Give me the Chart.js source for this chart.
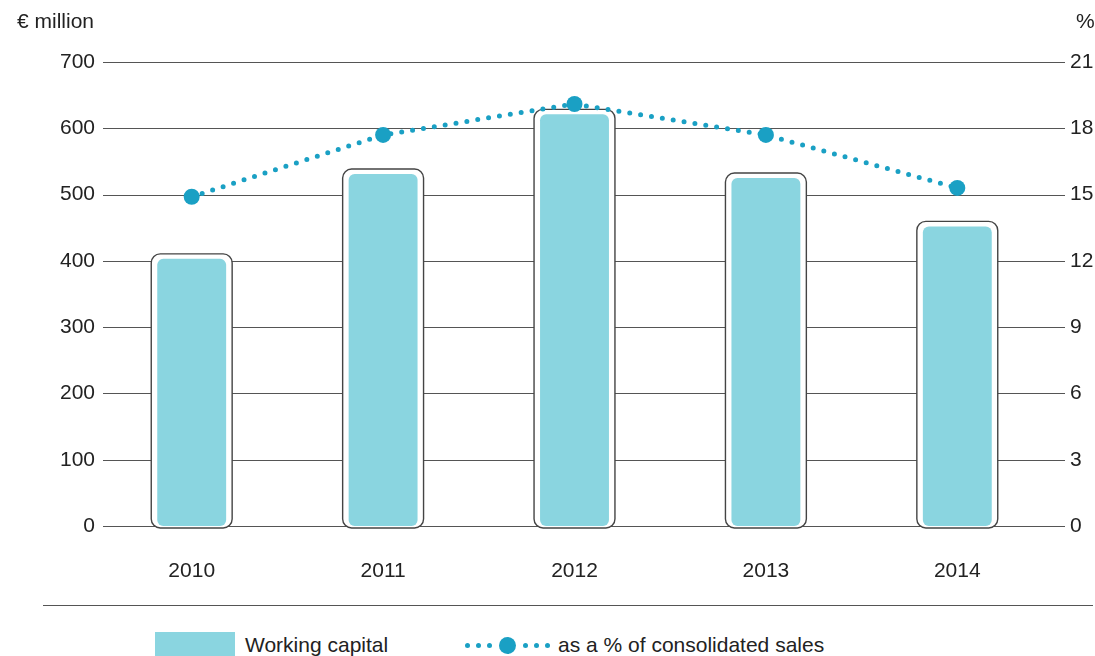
<!DOCTYPE html>
<html>
<head>
<meta charset="utf-8">
<script src="https://cdn.jsdelivr.net/npm/chart.js@4"></script>
<style>
  body { margin: 0; background: #fff; font-family: "Liberation Sans", Arial, sans-serif; color: #222; }
  #wrap { position: relative; width: 1095px; height: 656px; overflow: hidden; }
  #chartBox { position: absolute; left: 0; top: 0; width: 1095px; height: 600px; }
  .unit { position: absolute; top: 9px; font-size: 21px; }
  #sep { position: absolute; left: 43px; top: 605px; width: 1050px; height: 1px; background: #555; }
  .leg { position: absolute; top: 632px; font-size: 21px; line-height: 26px; }
  .swatch { position: absolute; left: 155px; top: 632px; width: 80px; height: 30px; background: #8ad5e0; }
  .dot { position: absolute; border-radius: 50%; background: #1aa0c4; }
</style>
</head>
<body>
<div id="wrap">
  <div id="chartBox"><canvas id="myChart"></canvas></div>
  <div class="unit" style="left:17px;">€ million</div>
  <div class="unit" style="left:1076px;">%</div>
  <div id="sep"></div>
  <div class="swatch"></div>
  <div class="leg" style="left:245px;">Working capital</div>
  <div id="dots"></div>
  <div class="leg" style="left:558px;">as a % of consolidated sales</div>
</div>
<script>
const years = ['2010', '2011', '2012', '2013', '2014'];
const workingCapital = [403, 531, 621, 525, 452];
const pctOfSales = [14.9, 17.7, 19.1, 17.7, 15.3];
const leftTicks = [0, 100, 200, 300, 400, 500, 600, 700];
const rightTicks = [0, 3, 6, 9, 12, 15, 18, 21];

const fillColor = '#8ad5e0';
const lineColor = '#1aa0c4';
const gridColor = '#555';

// legend dots
const dotsBox = document.querySelector('#dots');
[467, 478, 489, 525, 536, 547].forEach(x => {
    const d = document.createElement('div');
    d.className = 'dot';
    d.style.cssText = `left:${x - 2.5}px;top:${643}px;width:5px;height:5px;`;
    dotsBox.appendChild(d);
});
const big = document.createElement('div');
big.className = 'dot';
big.style.cssText = 'left:499px;top:637px;width:17px;height:17px;';
dotsBox.appendChild(big);

// gridlines + bar frames, drawn under the datasets
const framePlugin = {
    id: 'frames',
    beforeDatasetsDraw(chart) {
        const ctx = chart.ctx;
        const area = chart.chartArea;
        const y = chart.scales.y;
        ctx.save();
        ctx.strokeStyle = gridColor;
        ctx.lineWidth = 1;
        leftTicks.forEach(v => {
            const py = Math.round(y.getPixelForValue(v)) + 0.5;
            ctx.beginPath();
            ctx.moveTo(area.left + 7, py);
            ctx.lineTo(area.right + 12, py);
            ctx.stroke();
        });
        const meta = chart.getDatasetMeta(0);
        meta.data.forEach(bar => {
            const l = bar.x - bar.width / 2 - 6;
            const r = bar.x + bar.width / 2 + 6;
            const t = bar.y - 5;
            const b = bar.base + 2;
            ctx.beginPath();
            ctx.roundRect(l, t, r - l, b - t, 9);
            ctx.fillStyle = '#fff';
            ctx.fill();
            ctx.lineWidth = 1.4;
            ctx.strokeStyle = '#444';
            ctx.stroke();
        });
        ctx.restore();
    }
};

const tickFont = { family: '"Liberation Sans", Arial, sans-serif', size: 21 };

new Chart(document.querySelector('#myChart'), {
    data: {
        labels: years,
        datasets: [{
            type: 'bar',
            label: 'Working capital',
            data: workingCapital,
            backgroundColor: fillColor,
            borderWidth: 0,
            borderRadius: 6,
            borderSkipped: false,
            barPercentage: 0.36,
            categoryPercentage: 1,
            yAxisID: 'y',
            order: 2
        }, {
            type: 'line',
            label: 'as a % of consolidated sales',
            data: pctOfSales,
            yAxisID: 'y1',
            borderColor: lineColor,
            borderWidth: 5,
            borderDash: [0, 11],
            borderCapStyle: 'round',
            pointRadius: 8,
            pointBackgroundColor: lineColor,
            pointBorderWidth: 0,
            tension: 0,
            order: 1
        }]
    },
    options: {
        responsive: true,
        maintainAspectRatio: false,
        animation: false,
        layout: { padding: { top: 62, left: 0, right: 0, bottom: 0 } },
        plugins: { legend: { display: false }, tooltip: { enabled: false } },
        scales: {
            x: {
                grid: { display: false, drawTicks: false },
                border: { display: false },
                ticks: { color: '#222', font: tickFont, padding: 33 },
                afterFit: s => { s.height = 74; }
            },
            y: {
                position: 'left',
                min: 0, max: 700,
                afterBuildTicks: s => { s.ticks = leftTicks.map(v => ({ value: v })); },
                grid: { display: false, drawTicks: false },
                border: { display: false },
                ticks: { color: '#222', font: tickFont, padding: 1 },
                afterFit: s => { s.width = 96; }
            },
            y1: {
                position: 'right',
                min: 0, max: 21,
                afterBuildTicks: s => { s.ticks = rightTicks.map(v => ({ value: v })); },
                grid: { display: false, drawTicks: false },
                border: { display: false },
                ticks: { color: '#222', font: tickFont, padding: 17 },
                afterFit: s => { s.width = 42; }
            }
        }
    },
    plugins: [framePlugin]
});
</script>
</body>
</html>
